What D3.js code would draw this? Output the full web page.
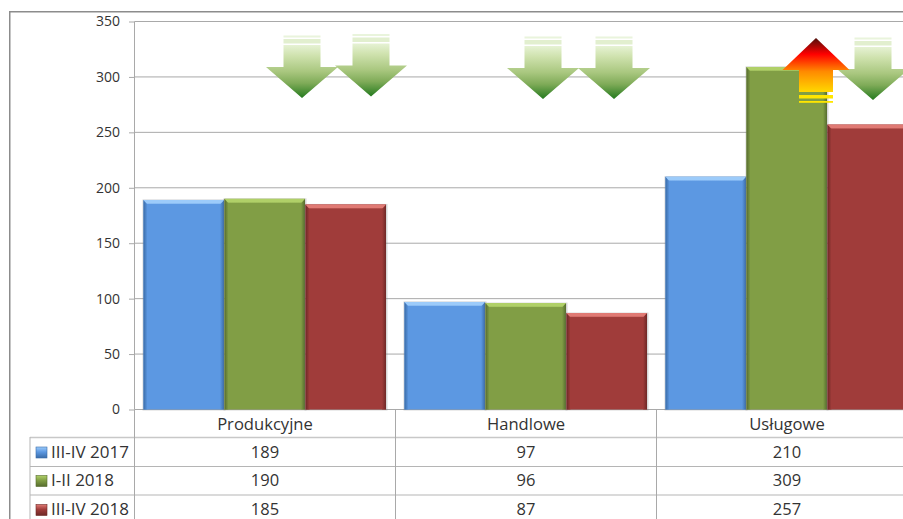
<!DOCTYPE html>
<html><head><meta charset="utf-8">
<script src="https://cdn.jsdelivr.net/npm/d3@7/dist/d3.min.js"></script>
<style>
html,body{margin:0;padding:0;background:#fff;overflow:hidden}
svg{display:block}
text{font-family:"Open Sans","Noto Sans",sans-serif;fill:#333}
</style></head><body>
<script>
const categories = ["Produkcyjne", "Handlowe", "Usługowe"];
const seriesNames = ["III-IV 2017", "I-II 2018", "III-IV 2018"];
const values2017b = [189, 97, 210];
const values2018a = [190, 96, 309];
const values2018b = [185, 87, 257];
const seriesValues = [values2017b, values2018a, values2018b];
const yTicks = [0, 50, 100, 150, 200, 250, 300, 350];

const fills = ["#5c98e2", "#819e45", "#a03c3a"];
const tops = ["#9ccbfa", "#b0d068", "#e07a74"];
const sideDark = ["#3a6ca8", "#566c2e", "#6e2826"];

const W = 903, H = 519;
const M = {left: 134.5, top: 21.5, bottom: 409.5, right: 917.5};
const svg = d3.select("body").append("svg").attr("width", W).attr("height", H);
const defs = svg.append("defs");

const x0 = d3.scaleBand().domain(categories).range([M.left, M.right]).paddingInner(0.069).paddingOuter(0.0345);
const x1 = d3.scaleBand().domain(d3.range(3)).range([0, x0.bandwidth()]);
const y = d3.scaleLinear().domain([0, 350]).range([M.bottom, M.top]);

// frame
svg.append("path").attr("d", `M9.75 ${H}V11.75H${W}`).attr("fill", "none").attr("stroke", "#8c8c8c").attr("stroke-width", 1.5);

// y axis + grid
const grid = "#a9a9a9";
const gy = svg.append("g").attr("transform", `translate(${M.left},0)`)
  .call(d3.axisLeft(y).tickValues(yTicks).tickSize(5.5).tickPadding(9).tickFormat(d3.format("d")));
gy.selectAll("text").style("font-size", "14px");
gy.selectAll("line").attr("stroke", grid);
gy.select(".domain").attr("stroke", grid).attr("d", `M0.5 ${M.top}V${M.bottom}`).attr("transform", "translate(-0.5,0)");
svg.append("g").selectAll("line").data(yTicks).join("line")
  .attr("x1", M.left).attr("x2", W).attr("y1", d => y(d)).attr("y2", d => y(d))
  .attr("stroke", grid).attr("stroke-width", 1);

// bar gradients
fills.forEach((f, i) => {
  const l = defs.append("linearGradient").attr("id", "sl" + i).attr("x1", 0).attr("x2", 1).attr("y1", 0).attr("y2", 0);
  l.append("stop").attr("offset", 0).attr("stop-color", sideDark[i]);
  l.append("stop").attr("offset", 1).attr("stop-color", f);
  const r = defs.append("linearGradient").attr("id", "sr" + i).attr("x1", 0).attr("x2", 1).attr("y1", 0).attr("y2", 0);
  r.append("stop").attr("offset", 0).attr("stop-color", f);
  r.append("stop").attr("offset", 1).attr("stop-color", sideDark[i]);
  const t = defs.append("linearGradient").attr("id", "st" + i).attr("x1", 0).attr("x2", 0).attr("y1", 0).attr("y2", 1);
  t.append("stop").attr("offset", 0).attr("stop-color", tops[i]);
  t.append("stop").attr("offset", 0.7).attr("stop-color", tops[i]);
  t.append("stop").attr("offset", 1).attr("stop-color", f);
});

// bars
const bev = 4, topBev = 4.5;
const groups = svg.append("g").selectAll("g").data(categories).join("g")
  .attr("transform", d => `translate(${x0(d)},0)`);
groups.each(function (cat, ci) {
  const g = d3.select(this);
  seriesValues.forEach((vals, si) => {
    const bx = x1(si), bw = x1.bandwidth() - 0.5, by = y(vals[ci]), bb = M.bottom;
    g.append("rect").attr("x", bx - 1).attr("y", by - 0.5).attr("width", bw + 2.5).attr("height", bb - by + 1.5).attr("fill", "#777").attr("opacity", 0.3);
    g.append("rect").attr("x", bx).attr("y", by).attr("width", bw).attr("height", bb - by).attr("fill", fills[si]);
    g.append("polygon").attr("fill", `url(#sl${si})`)
      .attr("points", `${bx},${by} ${bx + bev},${by + topBev} ${bx + bev},${bb} ${bx},${bb}`);
    g.append("polygon").attr("fill", `url(#sr${si})`)
      .attr("points", `${bx + bw},${by} ${bx + bw - bev},${by + topBev} ${bx + bw - bev},${bb} ${bx + bw},${bb}`);
    g.append("polygon").attr("fill", `url(#st${si})`)
      .attr("points", `${bx},${by} ${bx + bw},${by} ${bx + bw - bev},${by + topBev} ${bx + bev},${by + topBev}`);
  });
});

// arrow gradients
const gd = defs.append("linearGradient").attr("id", "gd").attr("x1", 0).attr("x2", 0).attr("y1", 0).attr("y2", 1);
[[0, "#e6f2d4"], [0.2, "#cfe2ae"], [0.5, "#a9c77f"], [0.72, "#7fab58"], [1, "#247a1e"]]
  .forEach(s => gd.append("stop").attr("offset", s[0]).attr("stop-color", s[1]));
const gu = defs.append("linearGradient").attr("id", "gu").attr("x1", 0).attr("x2", 0).attr("y1", 0).attr("y2", 1);
[[0, "#4f0f0a"], [0.3, "#ff0000"], [0.62, "#ff8a00"], [1, "#ffd800"]]
  .forEach(s => gu.append("stop").attr("offset", s[0]).attr("stop-color", s[1]));

// down arrows: centre x and tip y
const downArrows = [[302, 98], [371, 96.5], [543, 99], [614, 99], [873, 100]];
const arrows = svg.append("g");
downArrows.forEach(([cx, tip]) => {
  const t = tip - 31;
  arrows.append("rect").attr("x", cx - 18.5).attr("y", tip - 62.5).attr("width", 37).attr("height", 2).attr("fill", "#e9f4dc");
  arrows.append("rect").attr("x", cx - 18.5).attr("y", tip - 59).attr("width", 37).attr("height", 4.5).attr("fill", "#e2efcf");
  arrows.append("path").attr("fill", "url(#gd)")
    .attr("d", `M${cx - 18.5} ${tip - 53}H${cx + 18.5}V${t}H${cx + 36}L${cx} ${tip}L${cx - 36} ${t}H${cx - 18.5}Z`);
});
// up arrow
const up = {cx: 816, tip: 38};
arrows.append("path").attr("fill", "url(#gu)")
  .attr("d", `M${up.cx} ${up.tip}L${up.cx + 33.5} ${up.tip + 32}H${up.cx + 17}V${up.tip + 54}H${up.cx - 17}V${up.tip + 32}H${up.cx - 33.5}Z`);
arrows.append("rect").attr("x", up.cx - 17).attr("y", up.tip + 57).attr("width", 34).attr("height", 3.5).attr("fill", "#ffe600");
arrows.append("rect").attr("x", up.cx - 17).attr("y", up.tip + 63).attr("width", 34).attr("height", 1.8).attr("fill", "#ffe600");

// table
const rowY = [437.5, 466.5, 495];
const tableLine = "#b5b5b5";
const table = svg.append("g");
table.append("line").attr("x1", 30).attr("x2", W).attr("y1", 437.5).attr("y2", 437.5).attr("stroke", "#c8c8c8").attr("stroke-width", 1.6);
rowY.slice(1).forEach(v => table.append("line").attr("x1", 30).attr("x2", W).attr("y1", v).attr("y2", v).attr("stroke", tableLine));
table.append("line").attr("x1", 30).attr("x2", 30).attr("y1", 437).attr("y2", H).attr("stroke", tableLine);
table.selectAll(".v").data(d3.range(4)).join("line").attr("class", "v")
  .attr("x1", d => M.left + d * x0.step()).attr("x2", d => M.left + d * x0.step())
  .attr("y1", M.bottom).attr("y2", H).attr("stroke", grid);

const centre = c => x0(c) + x0.bandwidth() / 2;
table.selectAll(".cat").data(categories).join("text").attr("class", "cat")
  .attr("x", centre).attr("y", 429.5).attr("text-anchor", "middle").attr("font-size", 16.6).text(d => d);
const rowBase = [457.5, 486, 515];
seriesNames.forEach((n, si) => {
  const ky = rowBase[si] - 10.5;
  const kg = defs.append("linearGradient").attr("id", "k" + si).attr("x1", 0).attr("x2", 0).attr("y1", 0).attr("y2", 1);
  kg.append("stop").attr("offset", 0).attr("stop-color", tops[si]);
  kg.append("stop").attr("offset", 0.45).attr("stop-color", fills[si]);
  kg.append("stop").attr("offset", 1).attr("stop-color", sideDark[si]);
  table.append("rect").attr("x", 36).attr("y", ky).attr("width", 11).attr("height", 11).attr("fill", `url(#k${si})`).attr("stroke", sideDark[si]).attr("stroke-width", 0.6);
  table.append("text").attr("x", 51).attr("y", rowBase[si]).attr("font-size", 17).text(n);
  categories.forEach((c, ci) => {
    table.append("text").attr("x", centre(c)).attr("y", rowBase[si]).attr("text-anchor", "middle").attr("font-size", 16.5).text(seriesValues[si][ci]);
  });
});
</script>
</body></html>
